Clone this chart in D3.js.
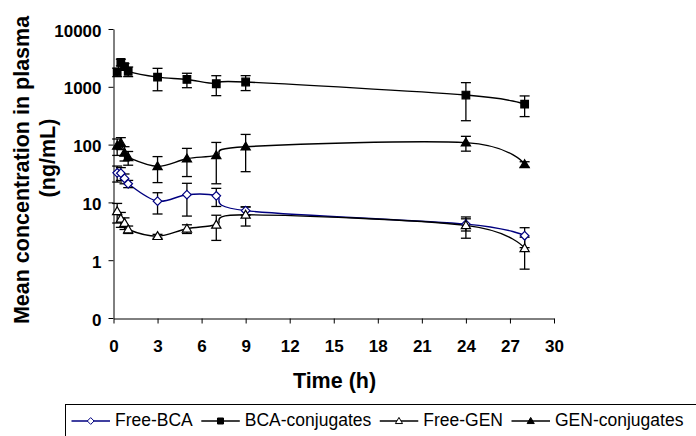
<!DOCTYPE html>
<html>
<head>
<meta charset="utf-8">
<script src="https://cdn.jsdelivr.net/npm/d3@7"></script>
<style>
  body { margin: 0; background: #fff; }
  svg { display: block; font-family: "Liberation Sans", Arial, sans-serif; }
</style>
</head>
<body>
<div id="main"></div>
<script>
// sampling times (h)
const times = [0.25, 0.5, 0.75, 1, 3, 5, 7, 9, 24, 28];

// mean plasma concentrations (ng/mL) and SD
const freeBCA    = [32.5, 32, 26, 21, 10.5, 13.6, 13, 7.2, 4.2, 2.65];
const freeBCASd  = [10, 8, 5, 3, 4.2, 7.8, 4.5, 1.2, 1.0, 1.0];
const bcaConj    = [1800, 2650, 2230, 1850, 1470, 1340, 1130, 1210, 720, 500];
const bcaConjSd  = [300, 350, 300, 350, 616, 375, 427, 350, 461, 195];
const freeGEN    = [7, 5.2, 4.4, 3.4, 2.6, 3.5, 4.1, 6.1, 4.0, 1.6];
const freeGENSd  = [2.6, 1.5, 1.0, 0.5, 0.2, 0.6, 1.9, 2.2, 1.6, 0.9];
const genConj    = [95, 107, 72, 60, 42, 57, 65, 92, 108, 45.5];
const genConjSd  = [30, 25, 20, 16, 20, 29, 44, 58, 31, 5];

const seriesNames = ["Free-BCA", "BCA-conjugates", "Free-GEN", "GEN-conjugates"];

const xTicks = [0, 3, 6, 9, 12, 15, 18, 21, 24, 27, 30];
const yTicks = [0.1, 1, 10, 100, 1000, 10000];
const yTickLabels = ["0", "1", "10", "100", "1000", "10000"];

const width = 696, height = 436;

const svg = d3.select("#main").append("svg")
    .attr("width", width)
    .attr("height", height);

const x = d3.scaleLinear().domain([0, 30]).range([113.5, 554]);
const y = d3.scaleLog().domain([0.1, 10000]).range([318, 29]);

// series table built from the arrays above
const series = [
    {name: seriesNames[0], vals: freeBCA, sd: freeBCASd, color: "#000080", shape: "diamond", fill: "#fff"},
    {name: seriesNames[1], vals: bcaConj, sd: bcaConjSd, color: "#000", shape: "square", fill: "#000"},
    {name: seriesNames[2], vals: freeGEN, sd: freeGENSd, color: "#000", shape: "triangle", fill: "#fff"},
    {name: seriesNames[3], vals: genConj, sd: genConjSd, color: "#000", shape: "triangle", fill: "#000"}
];

function markerPath(shape, s) {
    if (shape === "diamond") return `M0,${-s}L${s},0L0,${s}L${-s},0Z`;
    if (shape === "square") return `M${-s},${-s}H${s}V${s}H${-s}Z`;
    // triangle, centred on the point
    return `M0,${-s * 1.05}L${s * 1.05},${s * 0.75}L${-s * 1.05},${s * 0.75}Z`;
}

// axes
const yAxis = d3.axisLeft(y)
    .tickValues(yTicks)
    .tickFormat((d, i) => yTickLabels[i])
    .tickSize(5)
    .tickSizeOuter(0)
    .tickPadding(7);

const xAxis = d3.axisBottom(x)
    .tickValues(xTicks)
    .tickSize(5)
    .tickSizeOuter(0)
    .tickPadding(16);

const gy = svg.append("g").attr("transform", "translate(113.5,0)").call(yAxis);
gy.selectAll("text")
    .attr("font-size", 17)
    .attr("font-weight", "bold")
    .attr("font-family", "Liberation Sans, Arial, sans-serif")
    .attr("dy", "0.42em")
    .attr("fill", "#000");

const gx = svg.append("g").attr("transform", "translate(0,318.5)").call(xAxis);
gx.selectAll("text")
    .attr("font-size", 17)
    .attr("font-weight", "bold")
    .attr("font-family", "Liberation Sans, Arial, sans-serif")
    .attr("fill", "#000");

svg.selectAll(".domain, .tick line").attr("stroke", "#000").attr("stroke-width", 1);

// axis titles
svg.append("text")
    .attr("x", 334.5).attr("y", 388)
    .attr("text-anchor", "middle")
    .attr("font-size", 21.5)
    .attr("font-weight", "bold")
    .text("Time (h)");

const yTitle = svg.append("text")
    .attr("transform", "translate(29,170) rotate(-90)")
    .attr("text-anchor", "middle")
    .attr("font-size", 21.5)
    .attr("font-weight", "bold");
yTitle.append("tspan").attr("x", 0).attr("y", 0).text("Mean concentration in plasma");
yTitle.append("tspan").attr("x", 12).attr("y", 26).text("(ng/mL)");

// lines (smoothed)
const line = d3.line()
    .x(d => x(d[0]))
    .y(d => y(d[1]))
    .curve(d3.curveCardinal.tension(0));

const plot = svg.append("g");

series.forEach(s => {
    const pts = times.map((t, i) => [t, s.vals[i]]);
    plot.append("path")
        .attr("d", line(pts))
        .attr("fill", "none")
        .attr("stroke", s.color)
        .attr("stroke-width", 1.4);
});

// error bars
series.forEach(s => {
    const g = plot.append("g").attr("stroke", "#000").attr("stroke-width", 1.3);
    times.forEach((t, i) => {
        const hi = y(s.vals[i] + s.sd[i]);
        const lo = y(Math.max(s.vals[i] - s.sd[i], 0.1));
        const cx = x(t);
        g.append("line").attr("x1", cx).attr("x2", cx).attr("y1", hi).attr("y2", lo);
        g.append("line").attr("x1", cx - 5).attr("x2", cx + 5).attr("y1", hi).attr("y2", hi);
        g.append("line").attr("x1", cx - 5).attr("x2", cx + 5).attr("y1", lo).attr("y2", lo);
    });
});

// markers
series.forEach(s => {
    const size = s.shape === "square" ? 3.8 : s.shape === "diamond" ? 4.3 : 4.4;
    plot.append("g")
        .selectAll("path")
        .data(times.map((t, i) => [t, s.vals[i]]))
        .join("path")
        .attr("transform", d => `translate(${x(d[0])},${y(d[1])})`)
        .attr("d", markerPath(s.shape, size))
        .attr("fill", s.fill)
        .attr("stroke", s.color)
        .attr("stroke-width", 1.2);
});

// legend
const legend = svg.append("g");
legend.append("rect")
    .attr("x", 65.5).attr("y", 404.5)
    .attr("width", 700).attr("height", 60)
    .attr("fill", "#fff")
    .attr("stroke", "#000")
    .attr("stroke-width", 1);

let lx = 71.5;
series.forEach(s => {
    const ly = 421;
    legend.append("line")
        .attr("x1", lx).attr("x2", lx + 38.5)
        .attr("y1", ly).attr("y2", ly)
        .attr("stroke", s.color).attr("stroke-width", 1.5);
    legend.append("path")
        .attr("transform", `translate(${lx + 19.2},${ly})`)
        .attr("d", markerPath(s.shape, s.shape === "square" ? 3 : 3.4))
        .attr("fill", s.fill)
        .attr("stroke", s.color)
        .attr("stroke-width", 1);
    const t = legend.append("text")
        .attr("x", lx + 43.5).attr("y", 425.5)
        .attr("font-size", 17.5)
        .text(s.name);
    lx += 43.5 + t.node().getComputedTextLength() + 8.5;
});
</script>
</body>
</html>
